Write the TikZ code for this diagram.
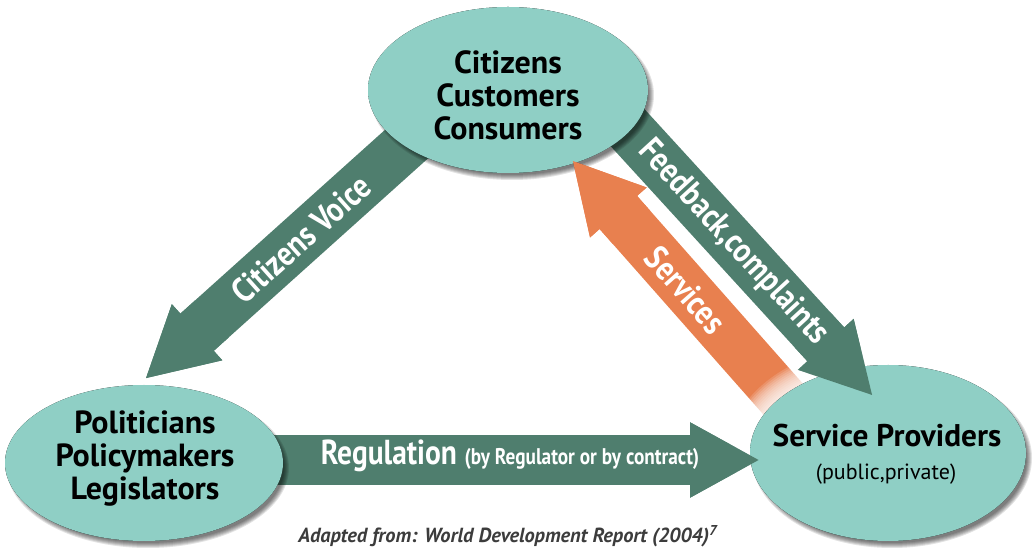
\documentclass[tikz,border=0pt]{standalone}
\usepackage{fontspec}
\setmainfont{PT Sans}
\newfontfamily\narrowfont[FakeStretch=0.85]{PT Sans}
\usetikzlibrary{arrows.meta,calc}

\definecolor{ellfill}{HTML}{8FCFC5}
\definecolor{flowgreen}{HTML}{4F7E6E}
\definecolor{floworange}{HTML}{E8804F}
\definecolor{notegray}{HTML}{3C3C3C}

\pgfdeclareradialshading{ellshade}{\pgfpoint{0bp}{0bp}}{color(0bp)=(ellfill); color(43bp)=(ellfill); color(50bp)=(ellfill!80!black)}

% ellipse with a soft shadow to the lower right
\def\shadowell(#1,#2)(#3:#4){%
	\foreach \k in {-3,...,2}{\fill[black, opacity=0.11] ({#1+4},{#2+5}) ellipse ({#3+\k} and {#4+\k});}
	\fill[shading=ellshade] (#1,#2) ellipse (#3 and #4);}

\tikzset{
	flow/.style={line width=37.5pt, -{Triangle[length=52.5pt,width=52.5pt]}},
	elltext/.style={align=center, inner sep=0pt, font=\fontsize{24}{24.75}\selectfont\bfseries},
	flowtext/.style={text=white, inner sep=0pt, font=\narrowfont\fontsize{26}{28}\selectfont\bfseries},
}

\begin{document}
\begin{tikzpicture}[x=0.75pt, y=-0.75pt]
			%%%%% START %%%%%
			\useasboundingbox (0,0) rectangle (1035,548);
			
			\coordinate (voice-s) at (420,132);
			\coordinate (voice-t) at (145,379);
			\coordinate (feed-s) at (616,115);
			\coordinate (feed-t) at (873,396);
			\coordinate (serv-s) at (791,408);
			\coordinate (serv-t) at (572,160);
			\coordinate (reg-s) at (250,460);
			\coordinate (reg-t) at (760,460);
			
			\draw[flow, color=flowgreen] (voice-s) -- (voice-t);
			\draw[flow, color=flowgreen] (feed-s) -- (feed-t);
			\draw[flow, color=floworange] (serv-s) -- (serv-t);
			\draw[flow, color=flowgreen] (reg-s) -- (reg-t);
			
			% white halo round the providers
			\foreach \g in {2,4,...,22}{\fill[white, opacity=0.15] (888,453) ellipse ({138+\g} and {88+\g});}
			
			\shadowell(508,90)(140:83)
			\shadowell(144,463)(139:78)
			\shadowell(888,453)(138:88)
			
			% heads lie on top of the ellipses
			\draw[flow, color=flowgreen] ($(voice-t)!67.5pt!(voice-s)$) -- (voice-t);
			\draw[flow, color=flowgreen] ($(feed-t)!67.5pt!(feed-s)$) -- (feed-t);
			\draw[flow, color=floworange] ($(serv-t)!67.5pt!(serv-s)$) -- (serv-t);
			\draw[flow, color=flowgreen] ($(reg-t)!67.5pt!(reg-s)$) -- (reg-t);
			
			\node[flowtext, rotate=41.9] (voice-lbl) at (301,239) {Citizens Voice};
			\node[flowtext, rotate=-47.5] (feed-lbl) at (733,243) {Feedback,complaints};
			\node[flowtext, rotate=-48.5] (serv-lbl) at (686,290) {Services};
			\node[flowtext, anchor=base] (reg-lbl) at (510,465) {{\fontsize{26}{28}\selectfont Regulation} {\fontsize{17}{19}\selectfont (by Regulator or by contract)}};
			
			\node[elltext] (cit-txt) at (508,95) {Citizens\\Customers\\Consumers};
			\node[elltext] (pol-txt) at (145,459) {Politicians\\Policymakers\\Legislators};
			\node[anchor=base, inner sep=0pt, font=\fontsize{23.5}{26}\selectfont\bfseries] (prov-txt) at (887,447) {Service Providers};
			\node[anchor=base, inner sep=0pt, font=\fontsize{16.5}{18}\selectfont] (prov-sub) at (886,480) {(public,private)};
			
			\node[anchor=base, inner sep=0pt, text=notegray, font=\fontsize{15.3}{17}\selectfont\bfseries\itshape] (source) at (508,542) {Adapted from: World Development Report (2004)\textsuperscript{7}};
			%%%%% END %%%%%
\end{tikzpicture}
\end{document}
